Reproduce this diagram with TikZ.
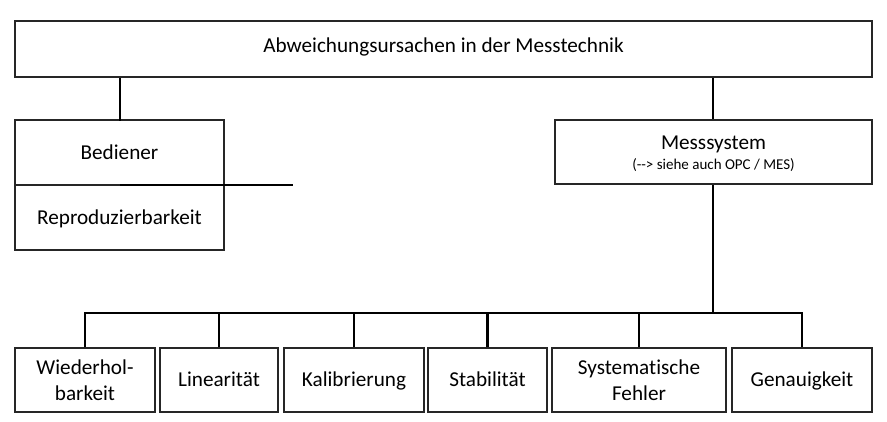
\documentclass[tikz,border=0pt]{standalone}
\usepackage{fontspec}
\setmainfont{Carlito}[Ligatures={NoCommon}]
\begin{document}
\begin{tikzpicture}[x=1pt,y=-1pt,
  box/.style={draw=black!85, line width=1.2pt, rectangle, inner sep=0pt, align=center,
    font=\fontsize{21.2}{26}\selectfont, text height=15pt, text depth=0pt},
  low/.style={minimum height=64pt, text height=13.4pt},
  two/.style={minimum height=64pt, text height=40pt},
  conn/.style={draw=black, line width=2.6pt}]
\useasboundingbox (0,0) rectangle (887,422);
\node[box, minimum width=857pt, minimum height=56pt, text height=7pt] (top) at (443.5,49) {Abweichungsursachen in der Messtechnik};
\node[box, minimum width=209pt, minimum height=65pt] (bed) at (119.5,152.5) {Bediener};
\node[box, minimum width=209pt, minimum height=65pt] (rep) at (119.5,217.5) {Reproduzierbarkeit};
\node[box, minimum width=317pt, minimum height=64pt, text height=34.6pt, font=\fontsize{21.2}{19.3}\selectfont] (mess) at (713.5,152) {Messsystem\\{\fontsize{15}{19.3}\selectfont ({-}{-}> siehe auch OPC / MES)}};
\node[box, two, minimum width=140pt] (b1) at (85,380) {Wiederhol-\\barkeit};
\node[box, low, minimum width=118pt] (b2) at (219,380) {Linearität};
\node[box, low, minimum width=140pt] (b3) at (354,380) {Kalibrierung};
\node[box, low, minimum width=119pt] (b4) at (487.5,380) {Stabilität};
\node[box, two, minimum width=174pt] (b5) at (639,380) {Systematische\\Fehler};
\node[box, low, minimum width=140pt] (b6) at (802,380) {Genauigkeit};
\coordinate (bus) at (0,313);
\coordinate (stub) at (293,185);
\draw[conn] (top.south -| 120,0) -- (120,120.6);
\draw[conn] (top.south -| 713,0) -- (mess.north -| 713,0);
\draw[conn] (mess.south -| 713,0) -- (713,313);
\draw[conn] (120,185) -- (stub);
\draw[conn, line join=miter] (b1.north) -- (b1.north |- bus) -- (b6.north |- bus) -- (b6.north);
\foreach \b in {b2,b3,b4,b5} \draw[conn] (\b.north) -- (\b.north |- bus);
\end{tikzpicture}
\end{document}
